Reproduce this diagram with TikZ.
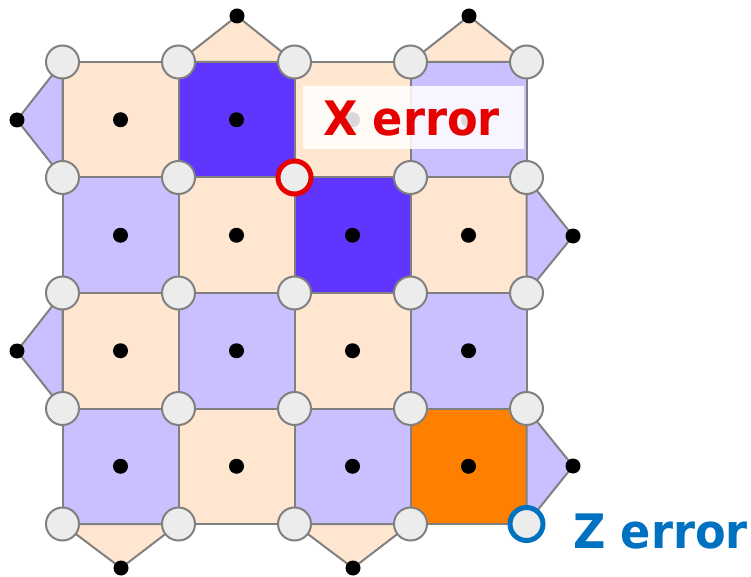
\documentclass[tikz,border=0pt]{standalone}
\usepackage{fontspec}
\setmainfont{DejaVu Sans}
\usetikzlibrary{calc}
\definecolor{peachc}{RGB}{255,230,208}
\definecolor{lavc}{RGB}{203,192,255}
\definecolor{darkbc}{RGB}{96,54,255}
\definecolor{orangec}{RGB}{255,128,0}
\definecolor{edgec}{RGB}{128,128,128}
\definecolor{qfill}{RGB}{236,236,236}
\definecolor{redc}{RGB}{230,0,0}
\definecolor{bluec}{RGB}{0,112,192}
\begin{document}
\begin{tikzpicture}[x=1pt,y=-1pt,
  plaq/.style={draw=edgec,line width=2pt,line join=round},
  qubit/.style={circle,draw=edgec,line width=2pt,fill=qfill,minimum size=33pt,inner sep=0pt},
  anc/.style={circle,fill=black,minimum size=15pt,inner sep=0pt},
  errx/.style={circle,draw=redc,line width=5pt,fill=qfill,minimum size=33pt,inner sep=0pt},
  errz/.style={circle,draw=bluec,line width=5pt,fill=qfill,minimum size=33pt,inner sep=0pt},
  lbl/.style={font=\fontsize{47.5}{52}\selectfont\bfseries,inner sep=0pt}]
\useasboundingbox (0,0) rectangle (751,577);
\foreach \i in {0,...,4}{\foreach \j in {0,...,4}{
  \coordinate (c-\i-\j) at ({62.5+116*\i},{62+115.5*\j});}}
\foreach \i/\j/\col in {0/0/peachc,1/0/darkbc,2/0/peachc,3/0/lavc,
  0/1/lavc,1/1/peachc,2/1/darkbc,3/1/peachc,
  0/2/peachc,1/2/lavc,2/2/peachc,3/2/lavc,
  0/3/lavc,1/3/peachc,2/3/lavc,3/3/orangec}{
  \pgfmathtruncatemacro{\ii}{\i+1}\pgfmathtruncatemacro{\jj}{\j+1}
  \draw[plaq,fill=\col] (c-\i-\j) rectangle (c-\ii-\jj);
  \coordinate (p-\i-\j) at ($(c-\i-\j)!0.5!(c-\ii-\jj)$);
}
\coordinate (t1) at (237,16);
\coordinate (t2) at (469,16);
\coordinate (l1) at (17,120);
\coordinate (l2) at (17,351);
\coordinate (r1) at (573,236);
\coordinate (r2) at (573,466);
\coordinate (b1) at (121,568);
\coordinate (b2) at (353,568);
\draw[plaq,fill=peachc] (c-1-0) -- (t1) -- (c-2-0) -- cycle;
\draw[plaq,fill=peachc] (c-3-0) -- (t2) -- (c-4-0) -- cycle;
\draw[plaq,fill=lavc] (c-0-0) -- (l1) -- (c-0-1) -- cycle;
\draw[plaq,fill=lavc] (c-0-2) -- (l2) -- (c-0-3) -- cycle;
\draw[plaq,fill=lavc] (c-4-1) -- (r1) -- (c-4-2) -- cycle;
\draw[plaq,fill=lavc] (c-4-3) -- (r2) -- (c-4-4) -- cycle;
\draw[plaq,fill=peachc] (c-0-4) -- (b1) -- (c-1-4) -- cycle;
\draw[plaq,fill=peachc] (c-2-4) -- (b2) -- (c-3-4) -- cycle;
\foreach \i in {0,...,3}{\foreach \j in {0,...,3}{
  \node[anc] (a-\i-\j) at (p-\i-\j) {};}}
\foreach \n in {t1,t2,l1,l2,r1,r2,b1,b2}{\node[anc] (a-\n) at (\n) {};}
\foreach \i in {0,...,4}{\foreach \j in {0,...,4}{
  \node[qubit] (q-\i-\j) at (c-\i-\j) {};}}
\node[errx] (ex) at (c-2-1) {};
\node[errz] (ez) at (c-4-4) {};
\node[fill=white,fill opacity=0.85,minimum width=221pt,minimum height=63pt,inner sep=0pt] (xbox) at (413.5,117.5) {};
\node[lbl,text=redc] (xl) at (411.5,118.5) {\scalebox{0.94}[1]{X error}};
\node[lbl,text=bluec] (zl) at (660.5,532) {\scalebox{0.94}[1]{Z error}};
\end{tikzpicture}
\end{document}
